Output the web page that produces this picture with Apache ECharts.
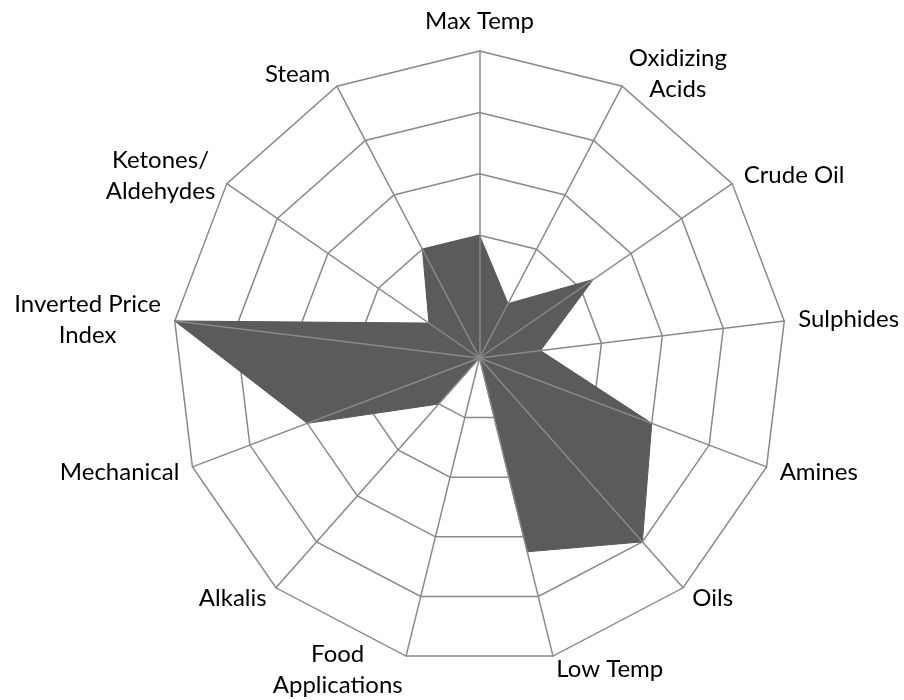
<!DOCTYPE html>
<html>
<head>
<meta charset="utf-8">
<script src="https://cdn.jsdelivr.net/npm/echarts@6/dist/echarts.min.js"></script>
<style>
  html, body { margin: 0; padding: 0; background: #fff; }
  #chart { width: 904px; height: 700px; }
</style>
</head>
<body>
<div id="chart"></div>
<script>
// categories clockwise from the top
var categories = [
  'Max Temp', 'Oxidizing\nAcids', 'Crude Oil', 'Sulphides', 'Amines', 'Oils',
  'Low Temp', 'Food\nApplications', 'Alkalis', 'Mechanical',
  'Inverted Price\nIndex', 'Ketones/\nAldehydes', 'Steam'
];
var values = [2, 1, 2.25, 1, 3, 4, 3.25, 0, 1, 3, 5, 1, 2];
var maxValue = 5;
var rings = 5;

// echarts lays indicators out counter-clockwise, so flip the order after the first
function ccw(arr) {
  return [arr[0]].concat(arr.slice(1).reverse());
}

var chart = echarts.init(document.getElementById('chart'));

var indicator = ccw(categories).map(function (name) {
  return { name: name, min: 0, max: maxValue };
});

var gridColor = '#898989';
var center = [479.5, 358];
var radius = 307;

var option = {
  backgroundColor: '#fff',
  animation: false,
  radar: [
    {
      // rings, under the fill
      indicator: indicator,
      center: center,
      radius: radius,
      shape: 'polygon',
      splitNumber: rings,
      z: 0,
      nameGap: 14,
      axisName: {
        color: '#000',
        fontFamily: 'Lato',
        fontSize: 24,
        lineHeight: 31,
        formatter: function (name) {
          return name.split('\n').map(function (s) { return '{c|' + s + '}'; }).join('\n');
        },
        rich: {
          c: {
            align: 'center',
            color: '#000',
            fontFamily: 'Lato',
            fontSize: 24,
            lineHeight: 31
          }
        }
      },
      splitLine: { show: true, lineStyle: { color: gridColor, width: 1.5 } },
      splitArea: { show: false },
      axisLine: { show: false },
      axisTick: { show: false },
      axisLabel: { show: false }
    },
    {
      // spokes, drawn over the fill
      indicator: indicator,
      center: center,
      radius: radius,
      shape: 'polygon',
      splitNumber: rings,
      z: 5,
      axisName: { show: false },
      splitLine: { show: false },
      splitArea: { show: false },
      axisLine: { show: true, lineStyle: { color: gridColor, width: 1.5 } },
      axisTick: { show: false },
      axisLabel: { show: false }
    }
  ],
  series: [
    {
      type: 'radar',
      radarIndex: 0,
      z: 2,
      symbol: 'none',
      silent: true,
      lineStyle: { color: '#505050', width: 1 },
      areaStyle: { color: '#5b5b5b', opacity: 1 },
      data: [{ value: ccw(values) }]
    }
  ]
};

chart.setOption(option);
</script>
</body>
</html>
